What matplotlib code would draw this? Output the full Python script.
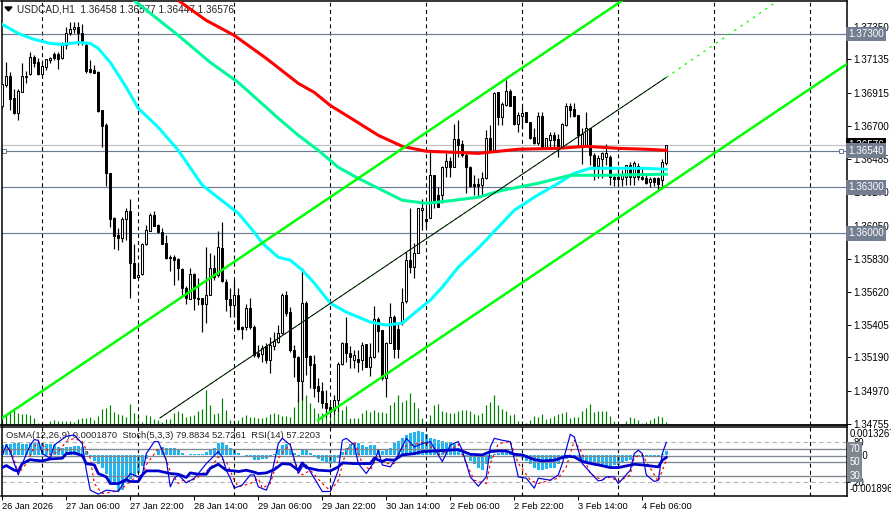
import numpy as np
import matplotlib
matplotlib.use("Agg")
import matplotlib.pyplot as plt

plt.rcParams['font.family'] = ['Liberation Sans', 'DejaVu Sans']

# prices kept as points above 1.30000 (1 point = 0.00001)
BASE = 1.3
opens_pts = [6829,6966,7024,6881,6783,6920,7024,7038,7148,7116,
             7038,7083,7129,7168,7174,7142,7227,7305,7337,7350,
             7305,7227,7070,7064,7051,6803,6705,6392,6099,5988,
             5968,6092,6144,5805,5714,5734,5929,6014,6118,6053,
             6007,5936,5844,5844,5831,5766,5642,5571,5734,5577,
             5577,5538,5597,5773,5727,5903,5681,5571,5531,5597,
             5388,5388,5512,5388,5218,5212,5264,5173,5264,5290,
             5349,5597,5486,5238,5192,5036,5544,5199,5147,5003,
             4971,4892,4866,4847,4912,5147,5284,5218,5173,5179,
             5173,5277,5127,5192,5440,5368,5055,5284,5453,5375,
             5414,5557,5825,5779,5870,6151,6092,6099,6379,6249,
             6249,6431,6470,6431,6614,6581,6509,6431,6320,6320,
             6314,6359,6620,6542,6920,6757,6835,6927,6894,6712,
             6764,6790,6725,6627,6588,6764,6555,6607,6640,6614,
             6562,6705,6829,6809,6770,6568,6575,6685,6509,6438,
             6483,6496,6496,6366,6366,6353,6366,6444,6366,6438,
             6366,6359,6333,6359,6359,6346,6458]
highs_pts = [6972,7116,7051,6940,6940,7109,7057,7187,7161,7142,
             7116,7135,7148,7187,7181,7246,7344,7377,7377,7377,
             7364,7246,7129,7096,7057,6803,6718,6392,6105,6033,
             6105,6164,6223,5929,5805,5936,6053,6131,6144,6060,
             6033,5988,5857,5857,5838,5773,5655,5773,5740,5707,
             5577,5910,5870,5857,6014,6073,5701,5642,5694,5642,
             5395,5538,5577,5401,5271,5271,5284,5323,5355,5401,
             5610,5623,5518,5271,5199,5773,5557,5205,5205,5055,
             5029,4977,4892,4945,5160,5290,5453,5264,5238,5238,
             5290,5277,5284,5525,5453,5368,5290,5544,5466,5414,
             5642,5877,6164,5936,6164,6223,6164,6542,6379,6301,
             6438,6522,6496,6712,6738,6607,6522,6438,6379,6359,
             6399,6672,6705,6920,6920,6855,7000,6940,6894,6790,
             6822,6790,6725,6685,6790,6790,6620,6659,6659,6646,
             6718,6848,6848,6848,6770,6685,6790,6685,6522,6509,
             6529,6581,6509,6386,6412,6412,6444,6464,6470,6457,
             6431,6379,6366,6366,6366,6483,6577]
lows_pts = [6816,6953,6803,6777,6738,6920,6979,7031,7083,7031,
            7031,7064,7109,7129,7070,7135,7201,7298,7305,7227,
            7227,7044,7044,7044,6790,6562,6307,6040,5897,5890,
            5942,5955,5577,5707,5707,5727,5923,6014,6046,6001,
            5929,5831,5753,5662,5694,5597,5538,5571,5499,5531,
            5355,5414,5597,5694,5714,5681,5492,5453,5453,5368,
            5310,5368,5375,5192,5186,5160,5153,5088,5238,5284,
            5342,5460,5225,5062,4899,4912,5075,4990,4932,4899,
            4860,4801,4801,4814,4834,5140,5160,5121,5121,5095,
            5108,5127,5068,5186,5225,5042,4932,5284,5186,5186,
            5401,5544,5740,5707,5870,6020,6033,6099,6164,6170,
            6196,6366,6366,6431,6496,6496,6262,6301,6249,6236,
            6249,6353,6542,6536,6705,6705,6829,6829,6705,6659,
            6685,6725,6614,6581,6575,6555,6555,6555,6555,6496,
            6555,6698,6757,6757,6562,6451,6568,6444,6346,6359,
            6359,6444,6314,6307,6307,6307,6314,6314,6314,6346,
            6346,6320,6301,6307,6281,6294,6447]
closes_pts = [6972,7024,6875,6783,6927,7024,7018,7148,7109,7038,
              7090,7135,7142,7142,7135,7227,7311,7337,7350,7305,
              7246,7057,7051,7044,6796,6698,6392,6092,5981,5968,
              6092,6144,5805,5707,5727,5929,6020,6118,6046,6007,
              5929,5838,5838,5825,5773,5642,5577,5734,5577,5571,
              5538,5597,5773,5714,5910,5688,5571,5531,5597,5375,
              5375,5512,5388,5205,5199,5251,5173,5271,5297,5349,
              5597,5479,5238,5192,5036,5544,5192,5140,4990,4971,
              4892,4860,4834,4912,5147,5284,5218,5192,5205,5160,
              5271,5127,5192,5440,5362,5055,5284,5453,5245,5245,
              5551,5825,5779,5870,6164,6164,6079,6379,6196,6170,
              6431,6470,6431,6614,6575,6509,6431,6307,6307,6307,
              6359,6620,6542,6914,6757,6842,6927,6829,6712,6770,
              6783,6725,6620,6588,6764,6555,6620,6640,6607,6555,
              6712,6829,6803,6764,6640,6646,6685,6509,6438,6490,
              6522,6522,6366,6353,6353,6379,6444,6366,6457,6366,
              6353,6327,6353,6333,6320,6464,6576]
# tick volume per bar, in the height units of the volume scale
volumes = [8,10,13,17,12,11,11,10,7,2,0,1,4,5,4,4,4,4,3,6,
           7,7,8,5,9,16,17,20,13,11,10,8,21,12,10,3,10,9,6,5,
           3,6,6,12,14,12,8,9,10,14,16,35,20,11,12,27,15,5,5,5,
           8,10,8,8,7,7,8,11,12,11,9,9,8,18,27,53,30,22,17,12,
           12,13,7,10,13,15,19,7,7,7,12,15,13,15,13,13,12,20,23,30,
           23,25,32,23,17,7,2,10,20,21,14,13,12,12,14,15,15,14,11,10,
           12,20,23,30,20,16,14,10,11,4,0,2,5,9,8,11,6,7,9,11,
           12,13,7,8,8,14,17,21,13,14,14,14,9,4,0,1,4,8,7,5,
           2,3,5,7,9,8,3]

# moving averages, read at the bars where the curve changes
ma_fast_bars = [0,4,8,12,15,19,22,24,27,31,34,39,44,50,59,63,65,69,72,75,78,82,86,92,96,
                100,103,107,110,114,119,128,133,139,143,147,154,160,166]
ma_fast_pts = [7364,7305,7266,7240,7233,7246,7240,7207,7116,6953,6816,6692,6542,6314,6131,
               6007,5936,5844,5825,5760,5675,5544,5486,5421,5401,5414,5479,5564,5649,5779,
               5903,6151,6236,6327,6392,6425,6425,6425,6418]
ma_mid_bars = [33,44,52,59,66,69,74,79,84,89,94,100,106,113,119,125,134,142,150,166]
ma_mid_pts = [7520,7292,7116,6985,6822,6751,6640,6542,6431,6359,6294,6216,6196,6216,6236,
              6281,6327,6379,6379,6386]
ma_slow_bars = [44,51,58,66,74,78,82,88,94,100,106,113,119,129,139,146,154,161,166]
ma_slow_pts = [7520,7390,7292,7142,6979,6920,6835,6738,6640,6568,6536,6529,6522,6549,6555,
               6568,6555,6549,6542]

# channel, bar and points at both ends
upper_bars = [0,155]
upper_pts = [4795,7520]
middle_bars = [39.4,166]
middle_pts = [4795,7018]
middle_ext_bars = [166,194]
middle_ext_pts = [7018,7520]
lower_bars = [79,211]
lower_pts = [4782,7103]

level_prices = [1.37300,1.36540,1.36300,1.36000]
last_price = 1.36576
price_ticks = [1.37350,1.37135,1.36915,1.36700,1.36485,1.36270,1.36050,1.35830,1.35620,1.35405,1.35190,1.34970,1.34755]
time_labels = ["26 Jan 2026","27 Jan 06:00","27 Jan 22:00","28 Jan 14:00","29 Jan 06:00","29 Jan 22:00",
               "30 Jan 14:00","2 Feb 06:00","2 Feb 22:00","3 Feb 14:00","4 Feb 06:00"]
day_bars = [10,34,58,82,106,130,154,178,202]

# OsMA per bar, in 0.00001
osma = [47,51,51,56,56,51,51,56,56,56,56,51,51,47,41,36,39,41,44,44,41,20,
        -6,-27,-42,-58,-89,-125,-136,-167,-162,-128,-112,-100,-81,-50,-16,0,3,28,41,36,36,33,25,12,0,5,5,5,8,16,
        31,36,56,59,47,36,28,12,3,-3,-8,-22,-22,-19,-16,-6,5,28,47,51,31,12,-3,
        28,28,12,-6,-16,-27,-34,-39,-31,-11,16,36,51,56,56,47,41,47,50,28,20,28,36,56,67,83,94,106,109,114,
        109,98,83,78,72,67,62,62,51,31,12,-6,-27,-42,-58,-66,-42,-16,5,12,20,28,20,12,-3,-11,-27,-42,-58,-66,
        -69,-62,-58,-58,-42,-19,-16,-6,-11,-19,-27,-31,-42,-42,-47,
        -50,-50,-50,-47,-47,-34,-27,-22,-6,-3,-3,-3,-6,-6,-3,5,20]
rsi_bars = [0,1,3,4,5,7,8,10,12,15,16,18,20,21,23,24,26,27,29,31,32,34,35,36,39,42,44,46,47,49,51,52,54,56,58,59,61,63,64,66,68,70,72,74,
            75,76,79,82,84,85,88,92,93,95,96,98,100,103,105,108,111,114,117,120,122,124,126,128,130,133,135,138,141,143,145,148,149,
            152,154,158,160,164,165,166]
rsi_vals = [42,45,38,37,48,54,53,52,55,56,63,64,60,48,46,33,28,18,18,24,21,21,31,37,37,33,32,27,34,32,32,41,47,38,37,36,38,35,33,34,39,48,47,38,
            49,42,38,37,43,49,48,48,56,51,54,53,61,63,66,67,68,69,62,61,66,67,67,62,61,54,52,53,59,58,51,47,46,
            42,42,47,46,43,53,57.22]
stoch_bars = [0,1,2,3,4,5,7,8,9,10,12,13,16,18,20,21,22,24,26,29,30,32,34,35,36,38,39,41,42,43,44,46,48,49,51,54,55,56,57,58,60,62,63,64,66,67,69,70,72,74,
              75,76,78,80,82,84,85,86,88,89,91,93,94,95,97,99,101,103,105,107,110,112,114,115,117,119,121,122,123,125,127,129,131,133,134,137,139,140,142,143,145,148,149,
              150,151,153,154,157,158,159,160,161,163,164,165,166]
stoch_vals = [61,76,66,48,31,48,76,84,83,63,56,76,89,91,78,38,8,2,8,6,16,33,28,31,63,81,81,53,13,26,31,19,26,33,48,66,58,38,26,11,16,31,31,13,8,23,78,86,76,33,
              43,46,26,6,6,38,83,86,76,48,33,51,68,46,43,61,86,73,78,81,51,76,81,68,28,14,28,73,86,83,81,28,26,11,26,23,31,48,92,88,48,28,22,
              23,28,28,18,38,63,68,63,31,21,23,63,79.88]
signal_bars = [0,2,3,4,6,8,9,11,12,14,16,18,20,22,23,25,28,30,33,35,36,39,40,42,44,45,47,49,52,54,56,58,59,62,64,65,67,69,72,73,
               75,77,80,82,84,86,88,90,92,94,96,98,100,103,106,109,112,114,116,118,121,122,124,127,129,132,134,137,139,141,143,145,147,149,
               150,152,154,157,158,160,162,164,165,166]
signal_vals = [63,71,53,33,48,73,81,71,61,66,81,86,81,56,18,3,6,11,26,31,46,71,71,36,18,23,21,28,41,58,51,23,13,18,26,11,18,56,78,51,
               31,38,18,7,23,68,81,48,38,61,48,48,73,77,81,61,68,77,48,23,18,48,78,81,48,23,18,23,26,43,83,63,33,26,
               24,28,21,31,58,61,41,21,38,52.73]

GRID = "#6C7A94"
W, H = 891.0, 515.0


def axes_px(left, top, right, bottom):
    return [left / W, 1 - bottom / H, (right - left) / W, (bottom - top) / H]


def pts(values):
    return BASE + np.array(values) / 1e5


fig = plt.figure(figsize=(W / 100, H / 100), dpi=100, facecolor="white")
ax = fig.add_axes(axes_px(1.5, 0.5, 846.5, 425))
vol_ax = ax.twinx()
vol_ax.set_ylim(0, 424.5)
vol_ax.axis("off")
ax.set_zorder(vol_ax.get_zorder() + 1)
ax.patch.set_visible(False)

x = np.arange(len(opens_pts))
opens = pts(opens_pts)
highs = pts(highs_pts)
lows = pts(lows_pts)
closes = pts(closes_pts)

vol_ax.vlines(x, 0, volumes, color="#008000", lw=0.85)

for d in day_bars:
    ax.axvline(d, color="black", lw=0.8, dashes=(3.5, 3), zorder=1)
for p in level_prices:
    ax.axhline(p, color=GRID, lw=0.85, zorder=1.5)
ax.axhline(last_price, color="#C0C0C0", lw=0.85, zorder=1.5)
ax.plot([0.3, 209.6], [level_prices[1]] * 2, ls="none", marker="s", ms=3.2, mfc="white", mec=GRID, mew=0.7, zorder=2)

# symbol line with the small black arrow
ax.annotate("USDCAD,H1  1.36458 1.36577 1.36447 1.36576", xy=(17 / W, 1 - 9 / H), xycoords="figure fraction",
            fontsize=7.2, va="center", ha="left", color="#222222", zorder=1)
fig.add_artist(plt.Polygon([[5 / W, 1 - 7 / H], [12 / W, 1 - 7 / H], [8.5 / W, 1 - 11 / H]], color="black",
                           transform=fig.transFigure))

# candles
ax.vlines(x, lows, highs, color="black", lw=0.85, zorder=3)
up = closes >= opens
ax.bar(x[up], (closes - opens)[up], bottom=opens[up], width=0.5, facecolor="white", edgecolor="black", lw=0.75, zorder=4)
ax.bar(x[~up], (closes - opens)[~up], bottom=opens[~up], width=0.55, facecolor="black", edgecolor="black", lw=0.7, zorder=4)

# moving averages
ax.plot(ma_fast_bars, pts(ma_fast_pts), color="#00FFFF", lw=2.2, zorder=5)
ax.plot(ma_mid_bars, pts(ma_mid_pts), color="#00FA9A", lw=2.2, zorder=5)
ax.plot(ma_slow_bars, pts(ma_slow_pts), color="#FF0000", lw=2.2, zorder=5)

# channel
ax.plot(upper_bars, pts(upper_pts), color="#00FF00", lw=1.8, zorder=6)
ax.plot(lower_bars, pts(lower_pts), color="#00FF00", lw=1.8, zorder=6)
ax.plot(middle_bars, pts(middle_pts), color="#00FF00", lw=0.8, dashes=(2, 3), zorder=6)
ax.plot(middle_bars, pts(middle_pts), color="black", lw=0.7, zorder=6)
ax.plot(middle_ext_bars, pts(middle_ext_pts), color="#00FF00", lw=0.9, dashes=(2, 4), zorder=6)

ax.set_xlim(-0.2, 211.05)
ax.set_ylim(1.3752 - 425 * 0.0000652, 1.3752)
ax.set_xticks([])
ax.yaxis.tick_right()
ax.set_yticks(price_ticks)
ax.set_yticklabels(["%.5f" % p for p in price_ticks])
ax.tick_params(axis="y", direction="out", length=3, width=0.7, pad=2, labelsize=7.1)
for s in ax.spines.values():
    s.set_linewidth(1.1)
ax.spines["bottom"].set_linewidth(1.3)

# price tags on the right
tf = ax.get_yaxis_transform()
ax.text(1.0022, last_price, "%.5f" % last_price, transform=tf, fontsize=7.1, color="white", va="center", ha="left",
        bbox=dict(fc="black", ec="none", pad=1.6), zorder=7)
for p in level_prices:
    ax.text(1.0022, p, "%.5f" % p, transform=tf, fontsize=7.1, color="white", va="center", ha="left",
            bbox=dict(fc="#737E90", ec="none", pad=1.6), zorder=8)

# oscillator panel
osc = fig.add_axes(axes_px(1.5, 427, 846.5, 496))
hist = osc.twinx()
hist.set_ylim(-0.001896, 0.0013267)
hist.axis("off")
osc.set_zorder(hist.get_zorder() + 1)
osc.patch.set_visible(False)
hist.bar(x, np.array(osma) * 1e-5, width=0.62, color="#1FB5EE", lw=0)

for d in day_bars:
    osc.axvline(d, color="black", lw=0.8, dashes=(3.5, 3), zorder=1)
for lv in [80, 20]:
    osc.axhline(lv, color="#B4B4B4", lw=0.8, dashes=(4, 3), zorder=1.5)
for lv in [70, 50, 30, 59.2]:
    osc.axhline(lv, color="#7F8790", lw=0.95, zorder=1.5)

osc.plot(signal_bars, signal_vals, color="#FF0000", lw=0.85, dashes=(2.2, 2.6), zorder=3)
osc.plot(stoch_bars, stoch_vals, color="#0000E0", lw=0.85, zorder=3.2)
osc.plot(rsi_bars, rsi_vals, color="#0000CD", lw=2.0, zorder=3.4)

osc.annotate("OsMA(12,26,9) 0.0001870  Stoch(5,3,3) 79.8834 52.7261  RSI(14) 57.2203", xy=(6 / W, 1 - 436 / H),
             xycoords="figure fraction", fontsize=6.75, va="center", ha="left", color="#222222", zorder=2)

osc.set_xlim(-0.2, 211.05)
osc.set_ylim(-0.75, 103)
osc.set_xticks(np.arange(len(time_labels)) * 16)
osc.set_xticklabels(time_labels, ha="left")
osc.tick_params(axis="x", direction="out", length=3, width=0.7, pad=1.5, labelsize=6.7)
osc.yaxis.tick_right()
osc.set_yticks([80, 20])
osc.set_yticklabels(["80", "20"])
osc.tick_params(axis="y", direction="out", length=2, width=0.7, pad=3, labelsize=6.9)
for s in osc.spines.values():
    s.set_linewidth(1.1)
tf2 = osc.get_yaxis_transform()
osc.text(1.004, 93, "0.0013267", transform=tf2, fontsize=6.9, va="center", ha="left", clip_on=False)
osc.text(1.004, 9.5, "-0.001896", transform=tf2, fontsize=6.9, va="center", ha="left", clip_on=False)
osc.text(1.004, 59.2, "0.00", transform=tf2, fontsize=6.9, va="center", ha="left", clip_on=False)
for lv in [70, 50, 30]:
    osc.text(1.0032, lv, str(lv), transform=tf2, fontsize=6.9, color="white", va="center", ha="left",
             bbox=dict(fc="#7F8790", ec="none", pad=1.3), zorder=8)

fig.savefig("out.png", dpi=100)
